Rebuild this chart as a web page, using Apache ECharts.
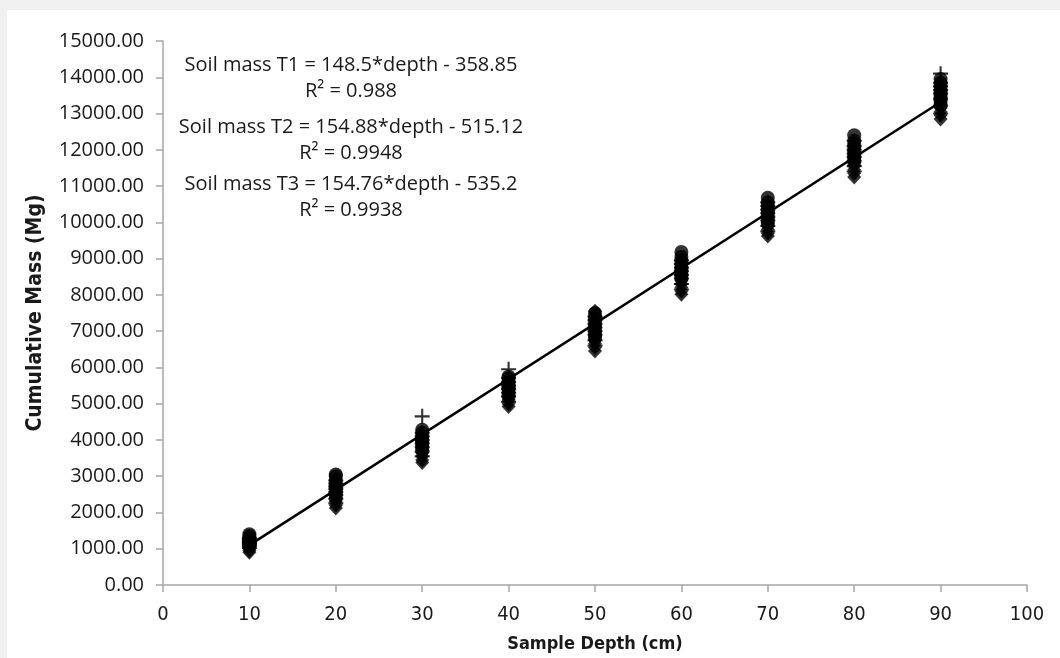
<!DOCTYPE html>
<html>
<head>
<meta charset="utf-8">
<script src="https://cdn.jsdelivr.net/npm/echarts@6/dist/echarts.min.js"></script>
<style>
  html, body { margin: 0; padding: 0; background: #f1f1f1; }
  #chart { width: 1060px; height: 658px; }
</style>
</head>
<body>
<div id="chart"></div>
<script>
// ---- Data ----
const depths = [10, 20, 30, 40, 50, 60, 70, 80, 90];

// Soil mass T1 (plus markers), values per depth
const massT1 = [
  [1020, 1080, 1150, 1210, 1260, 1300, 1120, 1180],
  [2250, 2380, 2480, 2560, 2650, 2720, 2800, 2880],
  [3550, 3680, 3800, 3900, 4000, 4100, 4200, 4650],
  [5050, 5200, 5300, 5400, 5500, 5600, 5700, 5950],
  [6600, 6750, 6900, 7000, 7100, 7200, 7300, 7400],
  [8150, 8300, 8450, 8550, 8650, 8750, 8850, 8950],
  [9750, 9900, 10050, 10150, 10250, 10350, 10450, 10550],
  [11400, 11550, 11700, 11800, 11900, 12000, 12100, 12250],
  [13000, 13200, 13400, 13550, 13650, 13750, 13850, 14100]
];

// Soil mass T2 (circle markers)
const massT2 = [
  [1080, 1150, 1200, 1250, 1300, 1350, 1400, 1180],
  [2400, 2500, 2600, 2700, 2800, 2900, 3000, 3050],
  [3700, 3800, 3900, 4000, 4100, 4200, 4280, 3950],
  [5200, 5300, 5400, 5500, 5600, 5700, 5750, 5450],
  [6800, 6900, 7000, 7100, 7200, 7300, 7400, 7500],
  [8450, 8550, 8650, 8750, 8850, 8950, 9050, 9180],
  [9950, 10050, 10150, 10250, 10350, 10450, 10550, 10680],
  [11650, 11750, 11850, 11950, 12050, 12150, 12250, 12400],
  [13250, 13350, 13450, 13550, 13650, 13750, 13850, 13950]
];

// Soil mass T3 (diamond markers)
const massT3 = [
  [900, 950, 1000, 1050, 1100, 1150, 1200, 1250],
  [2120, 2200, 2300, 2400, 2500, 2600, 2700, 2800],
  [3380, 3450, 3550, 3650, 3750, 3850, 3950, 4050],
  [4920, 5000, 5100, 5200, 5300, 5400, 5500, 5600],
  [6450, 6550, 6650, 6750, 6850, 7000, 7200, 7550],
  [8020, 8100, 8200, 8300, 8400, 8500, 8600, 8700],
  [9620, 9700, 9800, 9900, 10000, 10100, 10200, 10300],
  [11250, 11350, 11450, 11550, 11650, 11750, 11850, 11950],
  [12850, 12950, 13050, 13150, 13250, 13350, 13450, 13600]
];

// Trend line as drawn (end points)
const trendDepth = [10, 90];
const trendMass = [1100, 13320];

// Annotation text
const annotations = [
  'Soil mass T1 = 148.5*depth - 358.85',
  'R\u00B2 = 0.988',
  'Soil mass T2 = 154.88*depth - 515.12',
  'R\u00B2 = 0.9948',
  'Soil mass T3 = 154.76*depth - 535.2',
  'R\u00B2 = 0.9938'
];
const annotationY = [65, 91, 127, 153, 184, 210];

// ---- Build ----
function pairs(values) {
  const out = [];
  depths.forEach((d, i) => values[i].forEach(v => out.push([d, v])));
  return out;
}

const plusPath = 'path://M4.3,0H5.7V4.3H10V5.7H5.7V10H4.3V5.7H0V4.3H4.3Z';
const labelFont = '"Open Sans", "Liberation Sans", sans-serif';
const narrowFont = '"Liberation Sans Narrow", "DejaVu Sans Condensed", sans-serif';

const chart = echarts.init(document.getElementById('chart'), null, { renderer: 'canvas' });

const graphics = [
  { type: 'rect', z: -100, silent: true,
    shape: { x: 7, y: 10, width: 1053, height: 648 },
    style: { fill: '#ffffff' } }
];
annotations.forEach((t, i) => {
  graphics.push({
    type: 'text', z: 100, silent: true,
    x: 351, y: annotationY[i],
    style: { text: t, fill: '#1a1a1a', font: '20px ' + labelFont, align: 'center', verticalAlign: 'middle' }
  });
});

chart.setOption({
  backgroundColor: '#f1f1f1',
  animation: false,
  grid: { left: 163, right: 33, top: 41, bottom: 73, containLabel: false },
  xAxis: {
    type: 'value', min: 0, max: 100, interval: 10,
    name: 'Sample Depth (cm)', nameLocation: 'middle', nameGap: 50,
    nameTextStyle: { fontFamily: narrowFont, fontWeight: 'bold', fontSize: 18, color: '#1a1a1a' },
    axisLine: { lineStyle: { color: '#a6a6a6', width: 1.5 } },
    axisTick: { show: true, length: 7, lineStyle: { color: '#a6a6a6', width: 1.5 } },
    axisLabel: { margin: 20, fontFamily: narrowFont, fontSize: 20, color: '#1a1a1a' },
    splitLine: { show: false }
  },
  yAxis: {
    type: 'value', min: 0, max: 15000, interval: 1000,
    name: 'Cumulative Mass (Mg)', nameLocation: 'middle', nameGap: 117,
    nameTextStyle: { fontFamily: narrowFont, fontWeight: 'bold', fontSize: 21, color: '#1a1a1a' },
    axisLine: { show: true, lineStyle: { color: '#a6a6a6', width: 1.5 } },
    axisTick: { show: true, length: 7, lineStyle: { color: '#a6a6a6', width: 1.5 } },
    axisLabel: { margin: 19, fontFamily: labelFont, fontSize: 20, color: '#1a1a1a',
      formatter: v => v.toFixed(2) },
    splitLine: { show: false }
  },
  graphic: graphics,
  series: [
    { name: 'T3', type: 'scatter', symbol: 'diamond', symbolSize: [14, 15],
      itemStyle: { color: '#000' }, data: pairs(massT3), z: 3 },
    { name: 'T2', type: 'scatter', symbol: 'circle', symbolSize: 14,
      itemStyle: { color: '#000' }, data: pairs(massT2), z: 4 },
    { name: 'T1', type: 'scatter', symbol: plusPath, symbolSize: 15,
      itemStyle: { color: '#000' }, data: pairs(massT1), z: 5 },
    { name: 'Trend', type: 'line', symbol: 'none', z: 6,
      lineStyle: { color: '#000', width: 2.5 },
      data: trendDepth.map((d, i) => [d, trendMass[i]]) }
  ]
});
</script>
</body>
</html>
